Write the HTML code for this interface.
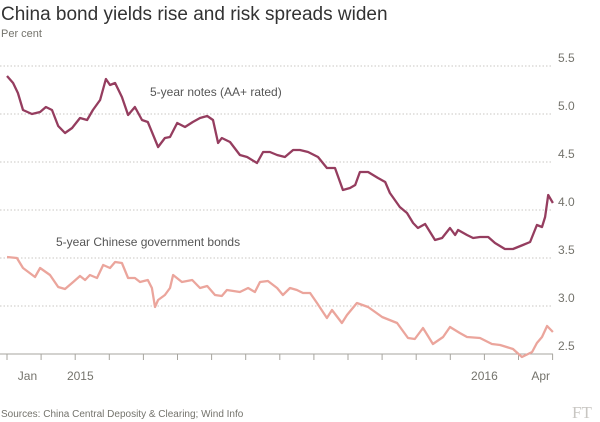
<!DOCTYPE html>
<html><head><meta charset="utf-8">
<style>
body{margin:0;background:#fff;}
svg{display:block;font-family:"Liberation Sans",sans-serif;}
</style></head>
<body>
<svg id="chart" width="600" height="422" viewBox="0 0 600 422">
<text x="1" y="20" font-size="19" fill="#333">China bond yields rise and risk spreads widen</text>
<text x="1" y="37" font-size="11" fill="#74736c">Per cent</text>
<g id="grid"></g>
<g id="series"></g>
<text x="150" y="96" font-size="12" fill="#555">5-year notes (AA+ rated)</text>
<text x="56" y="246" font-size="12" fill="#555">5-year Chinese government bonds</text>
<text x="1" y="417" font-size="10" fill="#74736c">Sources: China Central Deposity &amp; Clearing; Wind Info</text>
<text x="572" y="418" font-size="17" fill="#c8c6c2" font-family="Liberation Serif, serif">FT</text>
</svg>
<script>
const yTicks=[2.5,3.0,3.5,4.0,4.5,5.0,5.5];
const xLabels=["Jan","2015","2016","Apr"];
const xLabelMonths=[0.6,2.15,14.0,15.65];
const aaMonths=[0,.18,.32,.47,.73,.97,1.14,1.32,1.5,1.7,1.91,2.14,2.35,2.52,2.73,2.9,3.02,3.17,3.37,3.55,3.75,3.96,4.13,4.43,4.63,4.78,4.99,5.22,5.45,5.66,5.87,6.04,6.19,6.3,6.54,6.83,7.04,7.33,7.51,7.71,7.92,8.15,8.39,8.59,8.83,9.12,9.38,9.62,9.85,10.06,10.21,10.35,10.59,10.88,11.09,11.23,11.52,11.73,11.91,12.05,12.26,12.46,12.55,12.76,12.99,13.14,13.23,13.49,13.67,13.87,14.11,14.31,14.6,14.84,15.13,15.34,15.54,15.69,15.78,15.87,16.01];
const aaValues=[5.396,5.323,5.219,5.042,5.0,5.021,5.073,5.042,4.875,4.802,4.854,4.958,4.938,5.042,5.146,5.365,5.302,5.323,5.177,4.99,5.073,4.938,4.917,4.656,4.75,4.76,4.906,4.865,4.917,4.958,4.979,4.938,4.698,4.75,4.708,4.573,4.552,4.49,4.604,4.604,4.573,4.552,4.625,4.625,4.604,4.552,4.438,4.438,4.208,4.229,4.26,4.396,4.396,4.333,4.292,4.177,4.031,3.969,3.865,3.813,3.854,3.74,3.688,3.708,3.813,3.74,3.792,3.74,3.708,3.719,3.719,3.656,3.594,3.594,3.635,3.667,3.844,3.823,3.927,4.156,4.073];
const govMonths=[0,.29,.47,.82,.97,1.26,1.5,1.7,1.94,2.14,2.29,2.43,2.64,2.82,3.02,3.17,3.37,3.55,3.75,3.9,4.13,4.25,4.34,4.43,4.63,4.78,4.87,5.13,5.43,5.66,5.87,6.1,6.3,6.45,6.83,7.07,7.27,7.42,7.65,7.92,8.09,8.3,8.5,8.68,8.89,9.09,9.38,9.53,9.82,9.97,10.26,10.59,11,11.44,11.76,11.96,12.2,12.49,12.79,12.99,13.28,13.49,13.87,14.22,14.46,14.84,15.1,15.4,15.54,15.69,15.84,16.01];
const govValues=[3.51,3.5,3.396,3.302,3.396,3.323,3.198,3.177,3.25,3.313,3.271,3.323,3.292,3.427,3.396,3.458,3.448,3.292,3.292,3.25,3.271,3.188,2.99,3.063,3.115,3.188,3.323,3.25,3.271,3.188,3.208,3.115,3.104,3.167,3.146,3.188,3.146,3.25,3.26,3.188,3.115,3.188,3.167,3.135,3.135,3.031,2.875,2.958,2.823,2.906,3.031,2.99,2.885,2.823,2.667,2.656,2.771,2.604,2.677,2.781,2.719,2.677,2.667,2.604,2.594,2.552,2.469,2.521,2.615,2.677,2.792,2.729];
const NS="http://www.w3.org/2000/svg";
const X=m=>7+m*34.1;
const Y=v=>354-(v-2.5)*96;
const grid=document.getElementById('grid'),ser=document.getElementById('series');
function mk(tag,attrs,parent){const e=document.createElementNS(NS,tag);for(const k in attrs)e.setAttribute(k,attrs[k]);parent.appendChild(e);return e;}
yTicks.forEach((t,i)=>{
  const y=Y(t);
  if(i>0){const l=mk('line',{x1:0,x2:553,y1:y,y2:y,stroke:'#c9c7c3','stroke-dasharray':'1.5,2'},grid);
  
  }
  const tx=mk('text',{x:558,y:y-4,'font-size':12,fill:'#74736c'},grid);
  
  
  tx.textContent=t.toFixed(1);
});
const base=mk('line',{x1:0,x2:553,y1:354,y2:354,stroke:'#a7a59f','stroke-width':1},grid);


for(let k=0;k<=16;k++){
  const t=mk('line',{x1:X(k),x2:X(k),y1:354,y2:360,stroke:'#a7a59f'},grid);
  
  
}
xLabels.forEach((s,i)=>{
  const t=mk('text',{x:X(xLabelMonths[i]),y:380,'font-size':12,fill:'#74736c','text-anchor':'middle'},grid);
  
  
  t.textContent=s;
});
function line(ms,vs,color,name){
  const d=ms.map((m,i)=>(i?'L':'M')+X(m).toFixed(1)+','+Y(vs[i]).toFixed(1)).join('');
  const p=mk('path',{d:d,fill:'none',stroke:color,'stroke-width':2.3,'stroke-linejoin':'round'},ser);
  
  
}
line(govMonths,govValues,'#eba59c','gov-bonds-line');
line(aaMonths,aaValues,'#953d5f','aa-notes-line');
</script>
</body></html>
